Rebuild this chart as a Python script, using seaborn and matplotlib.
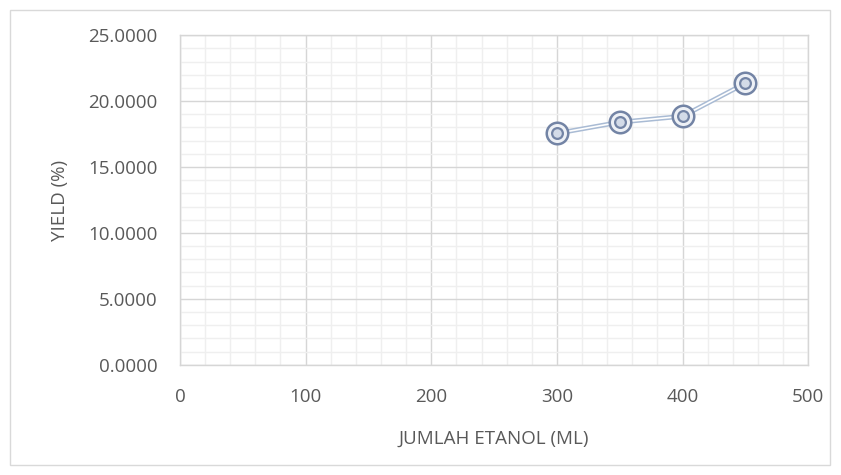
import numpy as np
import pandas as pd
import matplotlib
matplotlib.use("Agg")
import matplotlib.pyplot as plt
import seaborn as sns
from matplotlib.patches import Rectangle

# data
etanol = [300, 350, 400, 450]
yield_pct = [17.55, 18.40, 18.85, 21.35]
x_ticks = [0, 100, 200, 300, 400, 500]
y_ticks = [0, 5, 10, 15, 20, 25]

df = pd.DataFrame({"etanol": etanol, "yield": yield_pct})

sns.set_theme(style="white")
plt.rcParams['font.family'] = ['Open Sans', 'DejaVu Sans']
txt = "#595959"

fig = plt.figure(figsize=(8.41, 4.75), dpi=100)
ax = fig.add_axes([0.214, 0.232, 0.747, 0.694])

# grid: major darker, minor lighter
ax.set_xticks(x_ticks)
ax.set_yticks(y_ticks)
ax.set_xticks(np.arange(0, 501, 20), minor=True)
ax.set_yticks(np.arange(0, 25.1, 1), minor=True)
ax.grid(which="minor", color="#efefef", linewidth=1.0)
ax.grid(which="major", color="#d6d6d6", linewidth=1.0)
ax.set_axisbelow(True)

# double line: light blue with white core
sns.lineplot(data=df, x="etanol", y="yield", ax=ax, color="#a9bbd4",
             linewidth=3.4, zorder=3)
sns.lineplot(data=df, x="etanol", y="yield", ax=ax, color="white",
             linewidth=1.2, zorder=4)
# double ring markers
sns.scatterplot(data=df, x="etanol", y="yield", ax=ax, s=240,
                facecolor="#eef1f6", edgecolor="#7384a5", linewidth=1.8, zorder=5)
sns.scatterplot(data=df, x="etanol", y="yield", ax=ax, s=60,
                facecolor="#d3dbe8", edgecolor="#7384a5", linewidth=1.6, zorder=6)

ax.set_xlim(0, 500)
ax.set_ylim(0, 25)
ax.set_xticklabels([str(v) for v in x_ticks])
ax.set_yticklabels([f"{v:.4f}" for v in y_ticks])
ax.tick_params(axis="both", which="both", length=0, labelsize=13.5, labelcolor=txt)
ax.tick_params(axis="x", pad=17)
ax.tick_params(axis="y", pad=16)

for s in ax.spines.values():
    s.set_color("#d6d6d6")
    s.set_linewidth(1.0)

ax.set_xlabel("JUMLAH ETANOL (ML)", fontsize=13.5, color=txt, labelpad=17)
ax.set_ylabel("YIELD (%)", fontsize=13.5, color=txt, labelpad=14)

# outer chart border
fig.patches.append(Rectangle((0.012, 0.021), 0.975, 0.958, transform=fig.transFigure,
                             fill=False, edgecolor="#d9d9d9", linewidth=1.0))

fig.savefig("out.png", dpi=100)
